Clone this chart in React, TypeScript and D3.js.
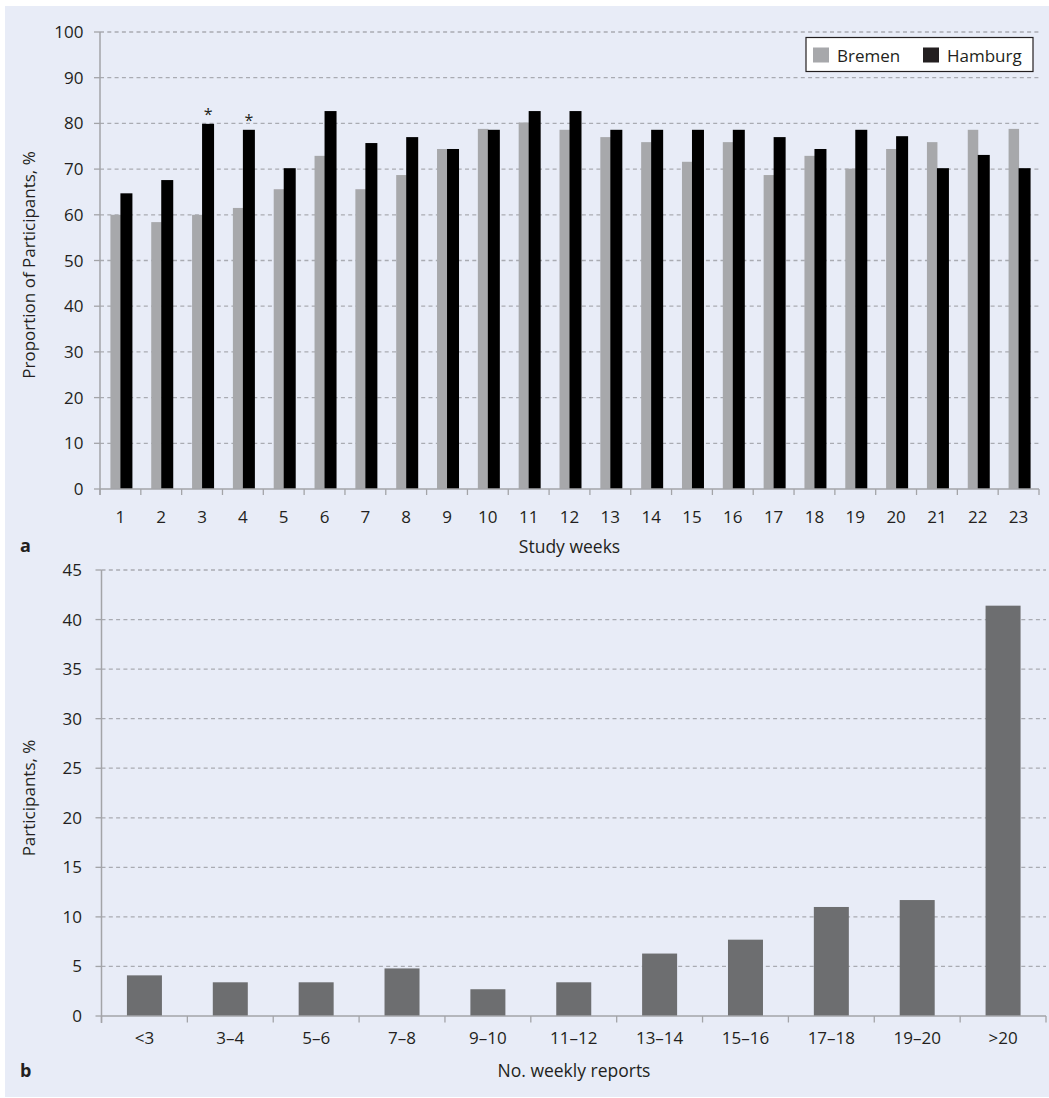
import React from "react";
import * as d3 from "d3";

const weeks = d3.range(1, 24).map(String);
const bremen = [60, 58.4, 60, 61.5, 65.6, 72.9, 65.6, 68.7, 74.4, 78.8, 80.2, 78.6, 77.0, 75.9, 71.6, 75.9, 68.7, 72.9, 70.1, 74.4, 75.9, 78.6, 78.8];
const hamburg = [64.7, 67.6, 79.9, 78.6, 70.2, 82.7, 75.7, 77.0, 74.4, 78.6, 82.7, 82.7, 78.6, 78.6, 78.6, 78.6, 77.0, 74.4, 78.6, 77.2, 70.2, 73.1, 70.2];
const starWeeks = ["3", "4"];
const yTicksA = d3.range(0, 101, 10);

const reportCats = ["<3", "3–4", "5–6", "7–8", "9–10", "11–12", "13–14", "15–16", "17–18", "19–20", ">20"];
const reportVals = [4.1, 3.4, 3.4, 4.8, 2.7, 3.4, 6.3, 7.7, 11.0, 11.7, 41.4];
const yTicksB = d3.range(0, 46, 5);

const FONT = "'Open Sans', sans-serif";
const TXT = "#231f20";
const AX = "#a3a4a8";
const GRID = "#a9abb2";

export default function App() {
  // Panel a
  const xa = d3.scaleBand<string>().domain(weeks).range([100, 1039]).padding(0);
  const ya = d3.scaleLinear().domain([0, 100]).range([489, 32]);
  // Panel b
  const xb = d3.scaleBand<string>().domain(reportCats).range([101.5, 1046]).padding(0);
  const yb = d3.scaleLinear().domain([0, 45]).range([1016, 570]);

  const ca = (w: string) => (xa(w) as number) + xa.bandwidth() / 2;
  const cb = (c: string) => (xb(c) as number) + xb.bandwidth() / 2;

  return (
    <svg
      width={1049}
      height={1098}
      style={{ position: "absolute", left: 0, top: 0 }}
      fontFamily={FONT}
    >
      <rect x={0} y={0} width={1049} height={1098} fill="#ffffff" />
      <rect x={5} y={6} width={1044} height={1091} fill="#e8ecf7" />

      {/* ---------- Panel a ---------- */}
      {yTicksA.map((t) => (
        <g key={"ga" + t}>
          {t > 0 && (
            <line x1={100} x2={1039} y1={ya(t)} y2={ya(t)} stroke={GRID} strokeWidth={1.3} strokeDasharray="4,3.3" />
          )}
          <line x1={94} x2={100} y1={ya(t)} y2={ya(t)} stroke={AX} strokeWidth={1.3} />
          <text x={83.5} y={ya(t) + 6} textAnchor="end" fontSize={17} fill={TXT}>
            {t}
          </text>
        </g>
      ))}
      {weeks.map((w, i) => (
        <g key={"ba" + w}>
          <rect x={ca(w) - 10} y={ya(bremen[i])} width={10.5} height={ya(0) - ya(bremen[i])} fill="#a7a8ab" />
          <rect x={ca(w)} y={ya(hamburg[i])} width={12} height={ya(0) - ya(hamburg[i])} fill="#000000" />
          {starWeeks.includes(w) && (
            <text x={ca(w) + 6} y={ya(hamburg[i]) - 4} textAnchor="middle" fontSize={16} fill={TXT}>
              *
            </text>
          )}
        </g>
      ))}
      <line x1={100} x2={1039} y1={ya(0)} y2={ya(0)} stroke={AX} strokeWidth={1.5} />
      <line x1={100} x2={100} y1={ya(100)} y2={ya(0) + 6} stroke={AX} strokeWidth={1.5} />
      {weeks.concat(["end"]).map((w, i) => {
        const x = 100 + i * xa.step();
        return <line key={"ta" + i} x1={x} x2={x} y1={ya(0)} y2={ya(0) + 6} stroke={AX} strokeWidth={1.3} />;
      })}
      {weeks.map((w) => (
        <text key={"la" + w} x={ca(w)} y={523} textAnchor="middle" fontSize={17} fill={TXT}>
          {w}
        </text>
      ))}
      <text x={569.5} y={553} textAnchor="middle" fontSize={17.5} fill={TXT}>
        Study weeks
      </text>
      <text transform="translate(35,265) rotate(-90)" textAnchor="middle" fontSize={17} fill={TXT}>
        Proportion of Participants, %
      </text>
      <text x={20} y={552} fontSize={18} fontWeight="bold" fill={TXT}>
        a
      </text>

      {/* legend */}
      <rect x={806} y={37.5} width={227} height={34} fill="#ffffff" stroke="#231f20" strokeWidth={1.2} />
      <rect x={813} y={47.5} width={16} height={15} fill="#a7a8ab" />
      <text x={837} y={62} fontSize={17} fill={TXT}>
        Bremen
      </text>
      <rect x={923} y={47.5} width={16} height={15} fill="#231f20" />
      <text x={947} y={62} fontSize={17} fill={TXT}>
        Hamburg
      </text>

      {/* ---------- Panel b ---------- */}
      {yTicksB.map((t) => (
        <g key={"gb" + t}>
          {t > 0 && (
            <line x1={101.5} x2={1046} y1={yb(t)} y2={yb(t)} stroke={GRID} strokeWidth={1.3} strokeDasharray="4,3.3" />
          )}
          <line x1={95.5} x2={101.5} y1={yb(t)} y2={yb(t)} stroke={AX} strokeWidth={1.3} />
          <text x={82} y={yb(t) + 6} textAnchor="end" fontSize={17} fill={TXT}>
            {t}
          </text>
        </g>
      ))}
      {reportCats.map((c, i) => (
        <rect key={"bb" + c} x={cb(c) - 17.5} y={yb(reportVals[i])} width={35} height={yb(0) - yb(reportVals[i])} fill="#6d6e70" />
      ))}
      <line x1={101.5} x2={1046} y1={yb(0)} y2={yb(0)} stroke={AX} strokeWidth={1.5} />
      <line x1={101.5} x2={101.5} y1={yb(45)} y2={yb(0) + 7} stroke={AX} strokeWidth={1.5} />
      {reportCats.concat(["end"]).map((c, i) => {
        const x = 101.5 + i * xb.step();
        return <line key={"tb" + i} x1={x} x2={x} y1={yb(0)} y2={yb(0) + 6.5} stroke={AX} strokeWidth={1.3} />;
      })}
      {reportCats.map((c) => (
        <text key={"lb" + c} x={cb(c)} y={1044} textAnchor="middle" fontSize={17} fill={TXT}>
          {c}
        </text>
      ))}
      <text x={574} y={1077} textAnchor="middle" fontSize={17.5} fill={TXT}>
        No. weekly reports
      </text>
      <text transform="translate(35,798) rotate(-90)" textAnchor="middle" fontSize={17} fill={TXT}>
        Participants, %
      </text>
      <text x={20} y={1077} fontSize={18} fontWeight="bold" fill={TXT}>
        b
      </text>
    </svg>
  );
}
